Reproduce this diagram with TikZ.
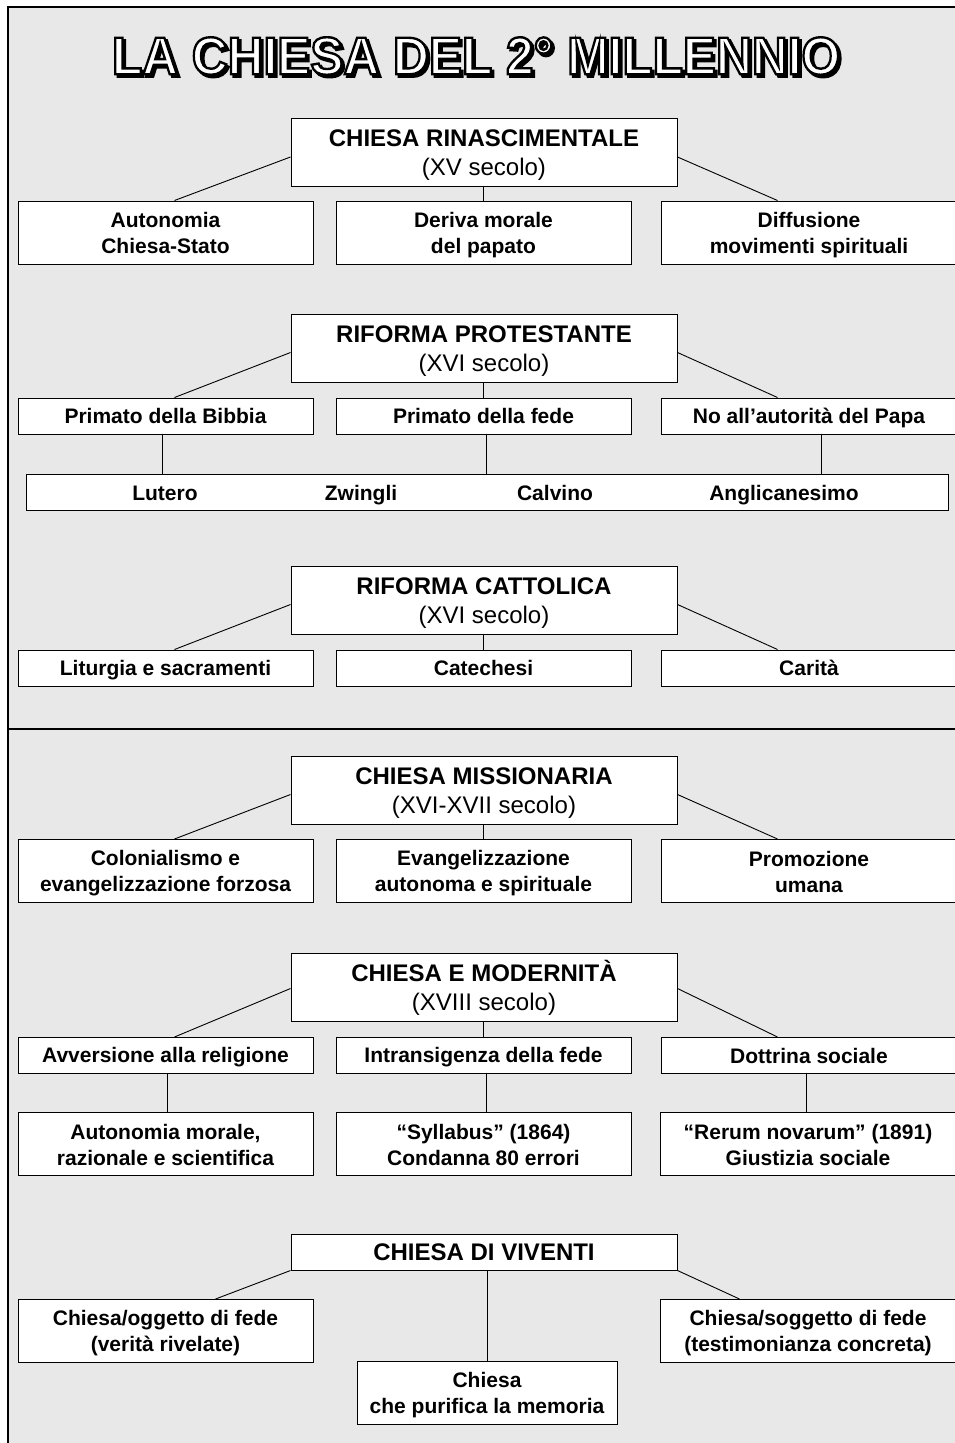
\documentclass[tikz,border=0pt]{standalone}
\usepackage{graphicx}
\usepackage{fontspec}
\setmainfont{Liberation Sans}
\usetikzlibrary{calc}
\definecolor{panel}{RGB}{232,232,232}
% title lettering: filled and stroked glyphs (text render mode 2)
\newcommand\titleword{\resizebox{728pt}{37pt}{\bfseries LA CHIESA DEL 2° MILLENNIO}}
\newcommand\strokedtext[1]{\special{pdf:literal direct 2 Tr 0.45 w 0 0 0 RG}#1\special{pdf:literal direct 0 Tr}}
% fixed line struts so every box places its lines evenly
\newcommand\itop{\rule{0pt}{20pt}}
\newcommand\itopone{\rule{0pt}{18.5pt}}
\newcommand\ibot{\rule[-3.5pt]{0pt}{3.5pt}}
\newcommand\htop{\rule{0pt}{22pt}}
\newcommand\htopone{\rule{0pt}{21pt}}
\newcommand\hbot{\rule[-3.8pt]{0pt}{3.8pt}}
\begin{document}
\begin{tikzpicture}[x=1pt,y=-1pt,
  box/.style={draw=black,fill=white,line width=1pt,inner sep=0pt,align=center},
  head/.style={box,minimum width=386pt,minimum height=68pt,font=\fontsize{24}{29}\selectfont},
  headone/.style={head,minimum height=36pt,font=\fontsize{24}{29}\selectfont\bfseries},
  item/.style={box,minimum width=295pt,minimum height=63pt,font=\fontsize{21}{26}\selectfont\bfseries},
  itemone/.style={item,minimum height=36pt},
  ritem/.style={item,minimum width=296pt},
  ritemone/.style={itemone,minimum width=296pt},
  label/.style={font=\fontsize{21}{26}\selectfont\bfseries,inner sep=0pt,anchor=base},
  link/.style={line width=0.9pt}
]
\useasboundingbox (0,0) rectangle (955,1443);
\clip (0,0) rectangle (955,1443);

% panel with top and left border, divider between the two halves
\draw[fill=panel,line width=1.5pt] (8,7) rectangle (975,1460);
\draw[line width=2.5pt] (8,729) -- (975,729);

% outlined title with drop shadow
\node[inner sep=0pt,text=black] (tshadow) at (478.5,58.5) {\strokedtext{\titleword}};
\node[inner sep=0pt,text=white] (title) at (476,56) {\strokedtext{\titleword}};

% --- Chiesa rinascimentale
\node[head] (rin) at (484,152) {\htop\textbf{CHIESA RINASCIMENTALE}\\(XV secolo)\hbot};
\node[item] (rin1) at (165.5,232.5) {\itop Autonomia\\Chiesa-Stato\ibot};
\node[item] (rin2) at (483.5,232.5) {\itop Deriva morale\\del papato\ibot};
\node[ritem] (rin3) at (809,232.5) {\itop Diffusione\\movimenti spirituali\ibot};
\draw[link] ([yshift=-5pt]rin.west) -- ($(rin1.north west)+(157,0)$);
\draw[link] (rin2.north |- rin.south) -- (rin2.north);
\draw[link] ([yshift=-5pt]rin.east) -- ($(rin3.north west)+(117,0)$);

% --- Riforma protestante
\node[head] (pro) at (484,348.5) {\htop\textbf{RIFORMA PROTESTANTE}\\(XVI secolo)\hbot};
\node[itemone] (pro1) at (165.5,416) {\itopone Primato della Bibbia\ibot};
\node[itemone] (pro2) at (483.5,416) {\itopone Primato della fede\ibot};
\node[ritemone] (pro3) at (809,416) {\itopone No all’autorità del Papa\ibot};
\draw[link] ([yshift=-4pt]pro.west) -- ($(pro1.north west)+(157,0)$);
\draw[link] (pro2.north |- pro.south) -- (pro2.north);
\draw[link] ([yshift=-4pt]pro.east) -- ($(pro3.north west)+(117,0)$);
\node[box,minimum width=922pt,minimum height=36pt] (names) at (487,492) {};
\node[label] (lutero) at (165,500) {Lutero};
\node[label] (zwingli) at (361,500) {Zwingli};
\node[label] (calvino) at (555,500) {Calvino};
\node[label] (anglic) at (784,500) {Anglicanesimo};
\draw[link] ([xshift=-3pt]pro1.south) -- ([xshift=-3pt]pro1.south |- names.north);
\draw[link] ([xshift=3pt]pro2.south) -- ([xshift=3pt]pro2.south |- names.north);
\draw[link] ([xshift=12pt]pro3.south) -- ([xshift=12pt]pro3.south |- names.north);

% --- Riforma cattolica
\node[head] (cat) at (484,600.5) {\htop\textbf{RIFORMA CATTOLICA}\\(XVI secolo)\hbot};
\node[itemone] (cat1) at (165.5,668) {\itopone Liturgia e sacramenti\ibot};
\node[itemone] (cat2) at (483.5,668) {\itopone Catechesi\ibot};
\node[ritemone] (cat3) at (809,668) {\itopone Carità\ibot};
\draw[link] ([yshift=-4pt]cat.west) -- ($(cat1.north west)+(157,0)$);
\draw[link] (cat2.north |- cat.south) -- (cat2.north);
\draw[link] ([yshift=-4pt]cat.east) -- ($(cat3.north west)+(117,0)$);

% --- Chiesa missionaria
\node[head] (mis) at (484,790.5) {\htop\textbf{CHIESA MISSIONARIA}\\(XVI-XVII secolo)\hbot};
\node[item] (mis1) at (165.5,871) {\itop Colonialismo e\\evangelizzazione forzosa\ibot};
\node[item] (mis2) at (483.5,871) {\itop Evangelizzazione\\autonoma e spirituale\ibot};
\node[ritem] (mis3) at (809,871) {\itop Promozione\\umana\ibot};
\draw[link] ([yshift=-4pt]mis.west) -- ($(mis1.north west)+(157,0)$);
\draw[link] (mis2.north |- mis.south) -- (mis2.north);
\draw[link] ([yshift=-4pt]mis.east) -- ($(mis3.north west)+(117,0)$);

% --- Chiesa e modernita
\node[head] (mod) at (484,987.5) {\htop\textbf{CHIESA E MODERNITÀ}\\(XVIII secolo)\hbot};
\node[itemone] (mod1) at (165.5,1055.5) {\itopone Avversione alla religione\ibot};
\node[itemone] (mod2) at (483.5,1055.5) {\itopone Intransigenza della fede\ibot};
\node[ritemone] (mod3) at (809,1055.5) {\itopone Dottrina sociale\ibot};
\draw[link] ([yshift=-1pt]mod.west) -- ($(mod1.north west)+(157,0)$);
\draw[link] (mod2.north |- mod.south) -- (mod2.north);
\draw[link] ([yshift=-1pt]mod.east) -- ($(mod3.north west)+(117,0)$);
\node[item] (mod4) at (165.5,1144) {\itop Autonomia morale,\\razionale e scientifica\ibot};
\node[item] (mod5) at (483.5,1144) {\itop “Syllabus” (1864)\\Condanna 80 errori\ibot};
\node[ritem] (mod6) at (808,1144) {\itop “Rerum novarum” (1891)\\Giustizia sociale\ibot};
\draw[link] ([xshift=2pt]mod1.south) -- ([xshift=2pt]mod1.south |- mod4.north);
\draw[link] ([xshift=3pt]mod2.south) -- ([xshift=3pt]mod2.south |- mod5.north);
\draw[link] ([xshift=-3pt]mod3.south) -- ([xshift=-3pt]mod3.south |- mod6.north);

% --- Chiesa di viventi
\node[headone] (viv) at (484,1252) {\htopone CHIESA DI VIVENTI\hbot};
\node[item] (viv1) at (165.5,1331) {\itop Chiesa/oggetto di fede\\(verità rivelate)\ibot};
\node[ritem] (viv3) at (808,1331) {\itop Chiesa/soggetto di fede\\(testimonianza concreta)\ibot};
\node[item,minimum width=260pt] (viv2) at (487,1393) {\itop Chiesa\\che purifica la memoria\ibot};
\draw[link] (viv.south west) -- ($(viv1.north west)+(198,0)$);
\draw[link] (viv2.north |- viv.south) -- (viv2.north);
\draw[link] (viv.south east) -- ($(viv3.north west)+(80,0)$);
\end{tikzpicture}
\end{document}
